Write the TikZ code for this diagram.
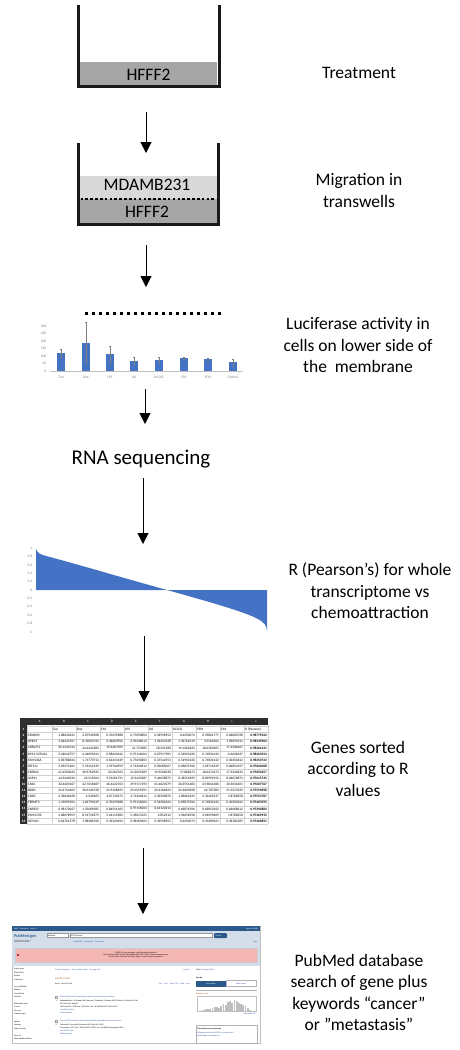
\documentclass[tikz,border=0pt]{standalone}
\usepackage{fontspec}
\setmainfont{Carlito}
\usepackage{xcolor}
\usepackage{tikz}
\usetikzlibrary{arrows.meta,positioning}
\definecolor{LayerDark}{HTML}{A6A6A6}
\definecolor{LayerLight}{HTML}{D9D9D9}
\definecolor{ChartBlue}{HTML}{4472C4}
\definecolor{AxisGray}{HTML}{7F7F7F}
\definecolor{SheetLine}{HTML}{D0D0D0}
\definecolor{SheetHead}{HTML}{2E2E2E}
\definecolor{NcbiBar}{HTML}{2B5A8A}
\definecolor{NcbiHead}{HTML}{D3DEEA}
\definecolor{NcbiPink}{HTML}{F5B7B4}
\definecolor{NcbiLink}{HTML}{2A4BA8}
\definecolor{NcbiOrange}{HTML}{B5540E}

\tikzset{
  flow/.style={line width=1pt,-{Triangle[width=11pt,length=11pt]}},
  wall/.style={line width=3pt,draw=black!90},
  steplabel/.style={font=\fontsize{17.5}{21.5}\selectfont,align=center},
  layertext/.style={font=\fontsize{17.5}{17.5}\selectfont},
  tick/.style={font=\fontsize{3.6}{4}\selectfont,text=AxisGray,inner sep=0.5pt},
  cellval/.style={font=\fontsize{3.4}{4}\selectfont,inner sep=0.4pt},
  webtext/.style={font=\fontsize{2}{2.4}\selectfont,inner sep=0pt,anchor=west},
}

\begin{document}
\begin{tikzpicture}[x=1pt,y=-1pt]
  \useasboundingbox (0,0) rectangle (460,1050);

  % Step 1: treatment well
  \fill[LayerDark] (80,62) rectangle (217,86);
  \draw[wall] (78,5) -- (78,86) -- (219,86) -- (219,5);
  \node[layertext] (hfffA) at (148.5,75) {HFFF2};
  \node[steplabel] (treat) at (359,73) {Treatment};

  % Step 2: transwell
  \fill[LayerLight] (80,176) rectangle (217,199);
  \fill[LayerDark] (80,199) rectangle (217,222.5);
  \foreach \i in {0,...,27}
    \fill (80.5+\i*4.85,197.8) rectangle ++(2.6,2.6);
  \draw[wall] (78,143) -- (78,224) -- (218,224) -- (218,143);
  \node[layertext] (mdamb) at (147,185) {MDAMB231};
  \node[layertext] (hfffB) at (147,212) {HFFF2};
  \node[steplabel] (migr) at (359,190.5) {Migration in\\transwells};

  % Step 3: luciferase bar chart
  \draw[AxisGray!50,line width=0.5] (50,371) -- (243,371);
  \foreach \v [count=\k from 0] in {0,50,...,300}
    \node[tick,anchor=east] at (47,371-\k*7.5) {\v};
  \foreach \cx/\top/\lo/\hi/\lab in {61/353/357/349/Tun, 86/343/363/322/Dox,
      110/354/363/346/LPS, 134/361/364/357/IL6, 159/360/362/357/hCCL8,
      184/358/359/357/CM, 208/359/360/358/SFM, 233/362/366/359/Control} {
    \fill[ChartBlue] (\cx-4,371) rectangle (\cx+4,\top);
    \draw[AxisGray,line width=0.6] (\cx,\lo) -- (\cx,\hi);
    \draw[AxisGray,line width=0.6] (\cx-1.2,\hi) -- (\cx+1.2,\hi);
    \draw[AxisGray,line width=0.6] (\cx-1.2,\lo) -- (\cx+1.2,\lo);
    \node[tick] at (\cx,377) {\lab};
  }
  \foreach \i in {0,...,19}
    \fill (85+\i*7,311.5) rectangle ++(3.2,3.2);
  \node[steplabel] (lucif) at (358,345.5)
    {Luciferase activity in\\cells on lower side of\\the~ membrane};

  % Step 4: sequencing
  \node[font=\fontsize{21}{25}\selectfont] (rnaseq) at (141,459) {RNA sequencing};

  % Step 5: correlation curve
  \fill[ChartBlue] (36,590) -- (36,548.5) .. controls (37,553) and (40,554.5) .. (48,556.5)
    .. controls (80,565) and (120,577) .. (167,590)
    .. controls (210,602) and (245,612) .. (258,619)
    .. controls (264,622) and (267,626) .. (267,631) -- (267,590) -- cycle;
  \foreach \v [count=\k from 0] in {1,0.8,0.6,0.4,0.2,0,-0.2,-0.4,-0.6,-0.8,-1}
    \node[tick,anchor=east] at (33,548+\k*8.4) {\v};
  \node[steplabel] (pears) at (370,591)
    {R (Pearson’s) for whole\\transcriptome vs\\chemoattraction};

  % Step 6: sorted spreadsheet
  \fill[SheetHead] (20,718) rectangle (268,725);
  \fill[SheetHead] (20,718) rectangle (27,824.1);
  \node[cellval,text=white] at (39.5,721.5) {A};
  \foreach \lab [count=\k from 0] in {B,C,D,E,F,G,H,I,J}
    \node[cellval,text=white] at (64+\k*24,721.5) {\lab};
  \foreach \r in {0,...,16}
    \draw[SheetLine,line width=0.3] (27,726.5+\r*6.1) -- (268,726.5+\r*6.1);
  \foreach \xx in {27,52,76,...,268}
    \draw[SheetLine,line width=0.3] (\xx,725) -- (\xx,824.1);
  \foreach \r in {1,...,16}
    \node[cellval,text=white,font=\fontsize{3.4}{4}\selectfont\bfseries] at (23.5,726.5+\r*6.1-3.05) {\r};
  \foreach \lab [count=\k from 0] in {Tun,Dox,CM,LPS,IL6,hCCL8,SFM,CM,R (Pearson)}
    \node[cellval,anchor=west] at (52.6+\k*24,729.55) {\lab};
  \foreach \rr/\gene/\vB/\vC/\vD/\vE/\vF/\vG/\vH/\vI/\vJ in {
    2/ZSWIM5/1.08630431/2.07932968/0.70459388/0.77692803/0.33958952/0.4492074/0.59861777/0.06060728/0.98775522,
    3/HERC5/3.66224707/8.13650745/2.46607856/2.91348013/1.22252238/1.34762219/3.5564362/1.09093111/0.98339964,
    4/CBFA2T3/20.1244743/34.4445482/19.4467909/21.753985/18.541588/19.1661822/18.4369605/17.4306467/0.98264131,
    5/RP11-527N22/2.22042757/2.44695224/0.98643242/0.97116004/0.67917905/0.54903126/0.71834132/-0.3636437/0.98263593,
    6/FAM136A/0.83788634/1.71770713/0.63413449/0.77692803/0.47542553/0.54903126/0.71834132/0.30303642/0.98250743,
    7/WTS11/2.09271261/5.15312139/1.59760959/2.71324812/0.95085067/0.69876706/1.23714339/0.84850197/0.97662008,
    8/ZBTB43/21.4503043/30.9762945/20.362763/21.3655209/19.3566038/17.868472/18.4374272/17.3334832/0.97650257,
    9/USP31/14.5440526/22.515004/9.51201791/15.5443287/9.44058875/8.18555699/8.69991556/8.06076874/0.97615735,
    10/TAB3/32.6403167/42.7618469/26.4222703/29.9117293/21.4620579/26.5551483/23.9844186/20.3034401/0.97607767,
    11/BRD3/24.2754663/30.0146728/21.9128695/25.0559291/22.4166623/22.4603698/22.787383/21.5537639/0.97593898,
    12/CDK5/3.33646328/4.349365/2.67745672/2.71324812/2.30920876/1.89665345/2.31465537/1.8768258/0.97553787,
    13/FERMT3/1.15099104/1.62790549/0.70459388/0.97116004/0.54304324/0.69876706/0.71834132/0.30303642/0.97467095,
    14/ZNF852/0.98172067/1.55689585/0.84551265/0.97116004/0.61120214/0.69876706/0.63852562/0.66668012/0.97392884,
    15/FAM117B/4.08078959/8.51731875/5.24115382/5.49617625/2.852512/1.94656558/3.03299609/1.8768258/0.97369915,
    16/ATP2A1/0.62761378/1.08486766/0.35220494/0.58369603/0.33958952/0.4492074/0.47489421/0.18182185/0.97366891} {
    \pgfmathsetmacro\yc{726.5+(\rr-1)*6.1+3.05}
    \node[cellval,anchor=west] at (27.6,\yc) {\gene};
    \node[cellval,anchor=east] at (75.4,\yc) {\vB};
    \node[cellval,anchor=east] at (99.4,\yc) {\vC};
    \node[cellval,anchor=east] at (123.4,\yc) {\vD};
    \node[cellval,anchor=east] at (147.4,\yc) {\vE};
    \node[cellval,anchor=east] at (171.4,\yc) {\vF};
    \node[cellval,anchor=east] at (195.4,\yc) {\vG};
    \node[cellval,anchor=east] at (219.4,\yc) {\vH};
    \node[cellval,anchor=east] at (243.4,\yc) {\vI};
    \node[cellval,anchor=east,font=\fontsize{3.4}{4}\selectfont\bfseries] at (267.4,\yc) {\vJ};
  }
  \node[steplabel] (genes) at (358,768.5) {Genes sorted\\according to R\\values};

  % Step 7: PubMed search page
  \draw[black!25,line width=0.4] (12,926) rectangle (260,1043);
  \fill[NcbiBar] (12,926) rectangle (260,931);
  \node[webtext,text=white] at (14,928.5) {NCBI\quad Resources\quad How To};
  \node[webtext,text=white,anchor=east] at (258,928.5) {Sign in to NCBI};
  \fill[NcbiHead] (12,931) rectangle (260,966);
  \node[anchor=west,inner sep=0pt,font=\fontsize{4.2}{5}\selectfont\bfseries,text=NcbiBar] at (14,936) {PubMed.gov};
  \node[webtext,font=\fontsize{1.3}{1.6}\selectfont,align=left] at (14,941.5)
    {US National Library of Medicine\\National Institutes of Health};
  \draw[black!40,fill=white,line width=0.2] (47,933.5) rectangle (68,937.5);
  \node[webtext] at (48,935.5) {PubMed};
  \draw[black!40,fill=white,line width=0.2] (70,933.5) rectangle (212,937.5);
  \node[webtext] at (71,935.5) {MTSS1 cancer};
  \fill[NcbiBar,rounded corners=1pt] (214,933) rectangle (227,938);
  \node[webtext,text=white] at (215.5,935.5) {Search};
  \node[webtext,text=NcbiLink] at (73,941.5) {Create RSS\quad Create alert\quad Advanced};
  \node[webtext,text=NcbiLink,anchor=east] at (257,941.5) {Help};
  \draw[black!20,fill=NcbiPink,line width=0.3] (15,948) rectangle (257,962);
  \fill[red!60!black] (18,955) circle (1.2);
  \node[webtext,anchor=center,align=center] at (136,955)
    {COVID-19 is an emerging, rapidly evolving situation.\\
     Get the latest public health information from CDC: https://www.coronavirus.gov.\\
     Get the latest research from NIH: https://www.nih.gov/coronavirus.};
  \foreach \txt [count=\k from 0] in {Article types, Clinical Trial, Review, Customize \ldots,
      {}, Text availability, Abstract, Free full text, Full text, {}, Publication dates,
      5 years, 10 years, Custom range\ldots, {}, Species, Humans, Other Animals, {},
      Clear all, Show additional filters}
    \node[webtext] at (14,969+\k*3.5) {\txt};
  \node[webtext,text=NcbiLink] at (55,969.5)
    {Format: Summary\quad Sort by: Best Match\quad Per page: 20};
  \node[webtext,text=NcbiLink,anchor=east] at (190,969.5) {Send to};
  \node[webtext,text=NcbiOrange,font=\fontsize{2.6}{3}\selectfont] at (55,979) {Search results};
  \node[webtext] at (55,984) {Items: 1 to 20 of 116};
  \node[webtext,text=NcbiLink,anchor=east] at (190,984) {First\quad Prev\quad Page 1 of 6\quad Next\quad Last};
  \draw[black!40,line width=0.2] (55.5,996) rectangle ++(1.6,1.6);
  \node[webtext] at (55.5,1001) {1.};
  \node[webtext,text=NcbiLink] at (60,997) {MTSS1 and SCAMP1 cooperate to prevent invasion in breast cancer.};
  \node[webtext] at (60,1000.5) {Vadakekolathu J, Al-Juboori SIK, Johnson C, Schneider A, Buczek ME, Di Biase A, Pockley AG, Ball};
  \node[webtext] at (60,1003.5) {GR, Powe DG, Regad T.};
  \node[webtext] at (60,1006.5) {Cell Death Dis. 2018 Mar 7;9(3):344. doi: 10.1038/s41419-018-0364-6.};
  \node[webtext,text=NcbiLink] at (60,1009.5) {Free PMC Article};
  \node[webtext,text=NcbiLink] at (60,1012.5) {Similar articles};
  \draw[black!40,line width=0.2] (55.5,1020) rectangle ++(1.6,1.6);
  \node[webtext] at (55.5,1025) {2.};
  \node[webtext,text=NcbiLink] at (60,1021) {Loss of MTSS1 results in increased metastatic potential in pancreatic cancer.};
  \node[webtext] at (60,1024.5) {Zeleniak AE, Huang W, Brinkman MK, Fishel ML, Hill R.};
  \node[webtext] at (60,1027.5) {Oncotarget. 2017 Mar 7;8(10):16473-16487. doi: 10.18632/oncotarget.14869.};
  \node[webtext,text=NcbiLink] at (60,1030.5) {Free PMC Article};
  \node[webtext,text=NcbiLink] at (60,1033.5) {Similar articles};
  \node[webtext] at (196,969.5) {Filters: \textcolor{NcbiLink}{Manage Filters}};
  \node[webtext,font=\fontsize{2}{2.4}\selectfont\bfseries] at (196,977.5) {Sort by:};
  \fill[NcbiBar] (196,980.5) rectangle (226,986.5);
  \node[webtext,text=white,anchor=center] at (211,983.5) {Best match};
  \draw[black!30,line width=0.3] (226,980.5) rectangle (256,986.5);
  \node[webtext,text=NcbiLink,anchor=center] at (241,983.5) {Most recent};
  \draw[black!30,line width=0.3] (196,990) -- (257,990);
  \node[webtext,text=NcbiOrange] at (196,993.5) {Results by year};
  \draw[black!25,line width=0.3] (197,996) rectangle (256,1011.5);
  \foreach \h [count=\k] in {1,1.5,2,2.5,3,3,4,5,5,4,6,8,7,10,11,9,12,11,9,8,7,6,4,2,1}
    \fill[black!25] (196.2+\k*2.2,1011.5) rectangle ++(1.8,-\h);
  \node[webtext,text=NcbiLink,anchor=east] at (256,1014) {Download CSV};
  \draw[black!30,line width=0.3] (196,1025) rectangle (257,1043);
  \node[webtext,font=\fontsize{2}{2.4}\selectfont\bfseries] at (197,1028.5) {Titles with your search terms};
  \node[webtext,text=NcbiLink] at (197,1032.5) {Differential effects of MTSS1 on invasion and};
  \node[webtext,text=NcbiLink] at (197,1035.5) {proliferation in subtypes of \ldots};
  \node[steplabel] (pubmed) at (359,992.5)
    {PubMed database\\search of gene plus\\keywords “cancer”\\or ”metastasis”};

  % Arrows between the steps
  \coordinate (a1top) at (146,112);  \coordinate (a1tip) at (146,153);
  \coordinate (a2top) at (146,245);  \coordinate (a2tip) at (146,287);
  \coordinate (a3top) at (145,389);  \coordinate (a3tip) at (145,424);
  \coordinate (a4top) at (143,478);  \coordinate (a4tip) at (143,544);
  \coordinate (a5top) at (144,636);  \coordinate (a5tip) at (144,702);
  \coordinate (a6top) at (143,848);  \coordinate (a6tip) at (143,914);
  \foreach \n in {1,...,6}
    \draw[flow] (a\n top) -- (a\n tip);
\end{tikzpicture}
\end{document}
